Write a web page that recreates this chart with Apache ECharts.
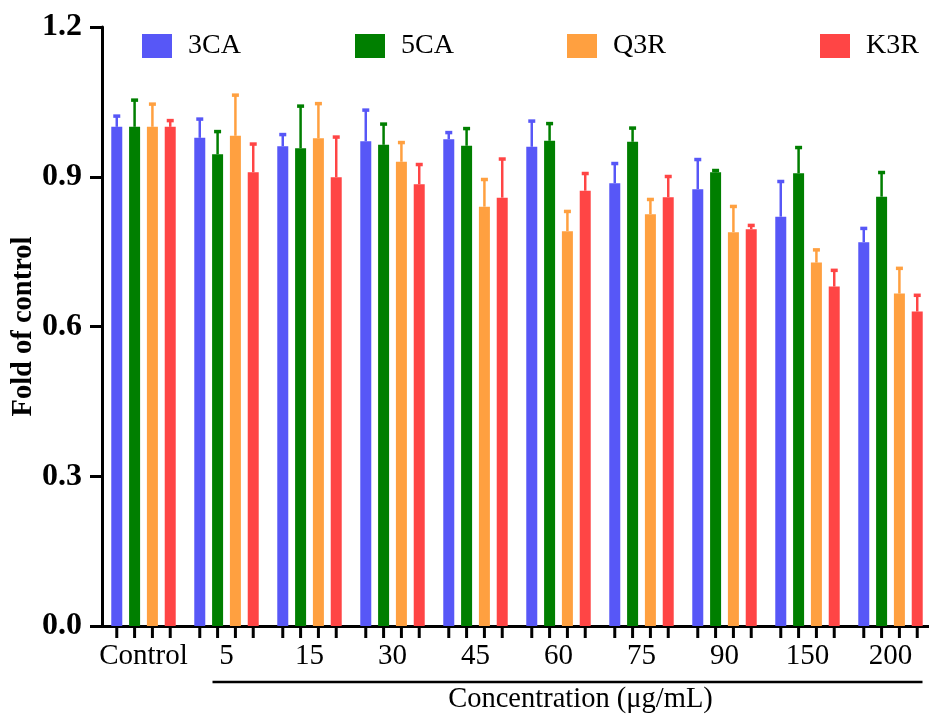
<!DOCTYPE html>
<html><head><meta charset="utf-8">
<script src="https://cdn.jsdelivr.net/npm/echarts@6/dist/echarts.min.js"></script>
<style>html,body{margin:0;padding:0;background:#fff}#c{width:929px;height:719px}</style>
</head><body><div id="c"></div>
<script>
const categories = ['Control','5','15','30','45','60','75','90','150','200'];
const seriesNames = ['3CA','5CA','Q3R','K3R'];
const mean3CA = [1.000, 0.978, 0.961, 0.971, 0.975, 0.960, 0.887, 0.875, 0.820, 0.769];
const err3CA  = [0.022, 0.038, 0.024, 0.063, 0.014, 0.052, 0.040, 0.060, 0.071, 0.028];
const mean5CA = [1.000, 0.945, 0.957, 0.964, 0.962, 0.972, 0.970, 0.909, 0.907, 0.860];
const err5CA  = [0.054, 0.046, 0.085, 0.042, 0.035, 0.035, 0.028, 0.004, 0.052, 0.049];
const meanQ3R = [1.000, 0.982, 0.977, 0.930, 0.840, 0.791, 0.825, 0.789, 0.728, 0.666];
const errQ3R  = [0.046, 0.082, 0.070, 0.039, 0.055, 0.040, 0.030, 0.052, 0.026, 0.051];
const meanK3R = [1.000, 0.909, 0.899, 0.885, 0.858, 0.872, 0.859, 0.795, 0.680, 0.630];
const errK3R  = [0.013, 0.057, 0.081, 0.040, 0.078, 0.035, 0.042, 0.008, 0.033, 0.033];
const yTickLabels = ['0.0','0.3','0.6','0.9','1.2'];
const colors = ['#5757F7','#007F00','#FFA040','#FF4545'];

const means = [mean3CA, mean5CA, meanQ3R, meanK3R];
const errs = [err3CA, err5CA, errQ3R, errK3R];
const BAR_W = 11, BAR_GAP = 0.62;
const FONT = "'Liberation Serif', 'Times New Roman', serif";

function barOffset(s) {
  const gap = BAR_W * BAR_GAP;
  const total = 4 * BAR_W + 3 * gap;
  return -total / 2 + BAR_W / 2 + s * (BAR_W + gap);
}

const series = [];
seriesNames.forEach((name, s) => {
  series.push({
    name: name, type: 'bar', barWidth: BAR_W, barGap: (BAR_GAP * 100) + '%',
    itemStyle: { color: colors[s] },
    data: means[s]
  });
});
seriesNames.forEach((name, s) => {
  series.push({
    name: name + ' err', type: 'custom', clip: false, z: 3,
    encode: { x: 0, y: 2 },
    data: categories.map((c, i) => [i, means[s][i], means[s][i] + errs[s][i]]),
    renderItem: function (params, api) {
      const i = api.value(0);
      const x = api.coord([i, 0])[0] + barOffset(s);
      const y0 = api.coord([i, 0])[1];
      const yb = api.coord([i, api.value(1)])[1];
      const yt = api.coord([i, api.value(2)])[1];
      return {
        type: 'group',
        children: [
          { type: 'line', shape: { x1: x, y1: yb, x2: x, y2: yt + 1 }, style: { stroke: colors[s], lineWidth: 2.5 } },
          { type: 'rect', shape: { x: x - 3.5, y: yt - 1.5, width: 7, height: 3.5 }, style: { fill: colors[s] } },
          { type: 'line', shape: { x1: x, y1: y0, x2: x, y2: y0 + 12 }, style: { stroke: '#000', lineWidth: 3 } }
        ]
      };
    }
  });
});

const legendLefts = [137, 350, 562, 815];
const legends = seriesNames.map((n, s) => ({
  data: [n], left: legendLefts[s], top: 27, icon: 'rect', itemWidth: 30, itemHeight: 24,
  selectedMode: false,
  textStyle: { fontFamily: FONT, fontSize: 28, color: '#000', padding: [0, 0, 0, 11] }
}));

const chart = echarts.init(document.getElementById('c'), null, { renderer: 'canvas' });
const option = {
  backgroundColor: '#fff',
  animation: false,
  color: colors,
  legend: legends,
  grid: { left: 102, top: 27, width: 830, height: 599, containLabel: false, outerBoundsMode: 'none' },
  xAxis: {
    type: 'category', data: categories,
    axisLine: { lineStyle: { color: '#000', width: 3 } },
    axisTick: { show: false },
    axisLabel: { color: '#000', fontFamily: FONT, fontSize: 29, margin: 16, interval: 0 }
  },
  yAxis: {
    type: 'value', min: 0, max: 1.2, interval: 0.3,
    name: 'Fold of control', nameLocation: 'middle', nameGap: 64, nameMoveOverlap: false,
    nameTextStyle: { fontFamily: FONT, fontSize: 28.5, fontWeight: 'bold', color: '#000' },
    axisLine: { show: true, lineStyle: { color: '#000', width: 3 } },
    axisTick: { show: true, length: 12, lineStyle: { color: '#000', width: 3 } },
    splitLine: { show: false },
    axisLabel: {
      color: '#000', fontFamily: FONT, fontSize: 32, fontWeight: 'bold', margin: 20,
      formatter: function (v) { return yTickLabels[Math.round(v / 0.3)]; }
    }
  },
  series: series
};
chart.setOption(option);

const p5 = chart.convertToPixel({ xAxisIndex: 0 }, '5');
const pEnd = chart.convertToPixel({ xAxisIndex: 0 }, '200');
const yBase = chart.convertToPixel({ yAxisIndex: 0 }, 0);
const x1 = p5 - 14, x2 = pEnd + 32;
chart.setOption({
  graphic: [
    { type: 'line', shape: { x1: x1, y1: yBase + 56, x2: x2, y2: yBase + 56 }, style: { stroke: '#000', lineWidth: 2.5 } },
    { type: 'text', x: (x1 + x2) / 2 + 13, y: yBase + 74,
      style: { text: 'Concentration (μg/mL)', font: "28.5px " + FONT, fill: '#000', textAlign: 'center', textVerticalAlign: 'middle' } }
  ]
});
</script></body></html>
